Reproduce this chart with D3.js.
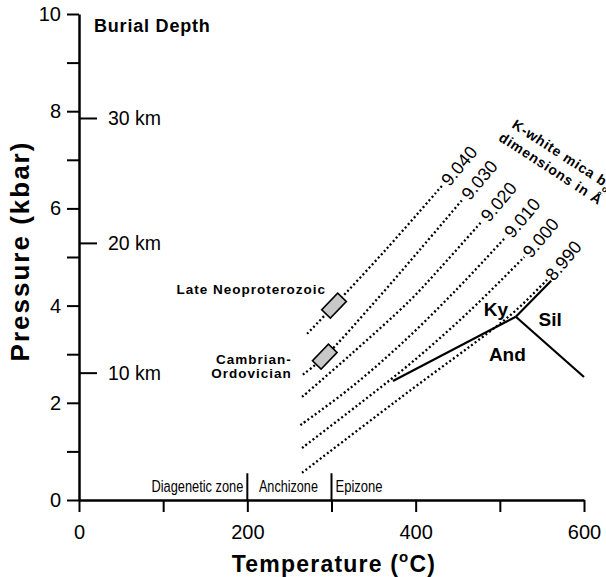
<!DOCTYPE html>
<html>
<head>
<meta charset="utf-8">
<script src="https://cdn.jsdelivr.net/npm/d3@7"></script>
<style>
  body { margin: 0; background: #fff; }
  svg { display: block; }
  text { font-family: "Liberation Sans", Arial, Helvetica, sans-serif; fill: #000; }
</style>
</head>
<body>
<svg id="chart" width="606" height="577"></svg>
<script>
// K-white mica b0 isolines (temperature in °C, pressure in kbar)
const micaLabels = ["9.040", "9.030", "9.020", "9.010", "9.000", "8.990"];
const micaT = [
  [271, 303, 365, 432],
  [266, 292, 350, 405, 456],
  [265, 322, 394, 430, 479],
  [263, 322, 384, 448, 507],
  [265, 331, 396, 463, 529],
  [265, 394, 486, 519, 556]
];
const micaP = [
  [3.42, 4.00, 5.16, 6.48],
  [2.58, 2.95, 4.05, 5.15, 6.19],
  [2.12, 2.98, 4.12, 4.79, 5.74],
  [1.54, 2.30, 3.23, 4.32, 5.41],
  [1.07, 1.95, 2.84, 3.87, 5.00],
  [0.56, 2.26, 3.44, 3.90, 4.53]
];

// aluminosilicate triple point and the ends of the three boundaries
const triplePoint = [519, 3.77];
const boundaryNames = ["Ky-Sil", "Ky-And", "Sil-And"];
const boundaryEndT = [561, 373, 600];
const boundaryEndP = [4.51, 2.45, 2.53];
const phaseNames = ["Ky", "Sil", "And"];
const phaseT = [481, 546, 487];
const phaseP = [3.79, 3.58, 2.86];

// P-T estimates of the samples
const sampleNames = [["Late Neoproterozoic"], ["Cambrian-", "Ordovician"]];
const sampleT = [303, 292];
const sampleP = [4.00, 2.95];

// burial depth scale
const depthKm = [10, 20, 30];
const depthP = [2.61, 5.28, 7.85];

// metamorphic zones along the T axis
const zoneNames = ["Diagenetic zone", "Anchizone", "Epizone"];
const zoneBounds = [200, 300];

const xTicks = [0, 100, 200, 300, 400, 500, 600];
const yTicks = [0, 1, 2, 3, 4, 5, 6, 7, 8, 9, 10];

const svg = d3.select("#chart");
const x = d3.scaleLinear().domain([0, 600]).range([79, 584]);
const y = d3.scaleLinear().domain([0, 10]).range([500, 14]);

// dotted b0 isolines
const line = d3.line()
  .x(d => x(d[0]))
  .y(d => y(d[1]))
  .curve(d3.curveCatmullRom.alpha(0.5));

micaLabels.forEach((lab, i) => {
  const pts = micaT[i].map((t, j) => [t, micaP[i][j]]);
  svg.append("path")
    .attr("d", line(pts))
    .attr("fill", "none")
    .attr("stroke", "#000")
    .attr("stroke-width", 2.3)
    .attr("stroke-dasharray", "2 2.5");

  const end = pts[pts.length - 1];
  svg.append("text")
    .attr("transform", `translate(${x(end[0]) + 2},${y(end[1]) - 2}) rotate(-50)`)
    .attr("dy", "0.35em")
    .attr("font-size", 18)
    .text(lab);
});

// sample boxes
sampleNames.forEach((name, i) => {
  const cx = x(sampleT[i]), cy = y(sampleP[i]);
  svg.append("rect")
    .attr("x", -11.5).attr("y", -6)
    .attr("width", 23).attr("height", 12)
    .attr("transform", `translate(${cx},${cy}) rotate(-46)`)
    .attr("fill", "#c8c8c8")
    .attr("stroke", "#000")
    .attr("stroke-width", 1.6);

  const lbl = svg.append("text")
    .attr("text-anchor", "end")
    .attr("font-size", 13.5)
    .attr("font-weight", "bold")
    .attr("letter-spacing", 1);
  if (name.length === 1) {
    lbl.append("tspan").attr("x", cx - 8).attr("y", cy - 12).text(name[0]);
  } else {
    name.forEach((s, k) => {
      lbl.append("tspan").attr("x", cx - 33).attr("y", cy + 7 + k * 14.5).text(s);
    });
  }
});

// aluminosilicate phase boundaries
boundaryNames.forEach((b, i) => {
  svg.append("line")
    .attr("x1", x(triplePoint[0])).attr("y1", y(triplePoint[1]))
    .attr("x2", x(boundaryEndT[i])).attr("y2", y(boundaryEndP[i]))
    .attr("stroke", "#000")
    .attr("stroke-width", 2.2);
});
phaseNames.forEach((p, i) => {
  svg.append("text")
    .attr("x", x(phaseT[i])).attr("y", y(phaseP[i]))
    .attr("font-size", 19)
    .attr("font-weight", "bold")
    .text(p);
});

// zone boundaries and names (squeezed to look like a narrow face)
zoneBounds.forEach(t => {
  svg.append("line")
    .attr("x1", x(t)).attr("x2", x(t))
    .attr("y1", y(0)).attr("y2", y(0.55))
    .attr("stroke", "#000")
    .attr("stroke-width", 2);
});
const zoneY = y(0) - 8;
function zoneText(txt, xPos, anchor, len) {
  const t = svg.append("text")
    .attr("text-anchor", anchor)
    .attr("font-size", 17)
    .text(txt);
  const sx = len / t.node().getComputedTextLength();
  t.attr("transform", `translate(${xPos},${zoneY}) scale(${sx},1)`);
}
zoneText(zoneNames[0], x(zoneBounds[0]) - 4, "end", 92);
zoneText(zoneNames[1], (x(zoneBounds[0]) + x(zoneBounds[1])) / 2 - 1, "middle", 59);
zoneText(zoneNames[2], x(zoneBounds[1]) + 4, "start", 47);

// axes
const xAxis = d3.axisBottom(x)
  .tickValues(xTicks)
  .tickSize(12)
  .tickSizeOuter(0)
  .tickPadding(13)
  .tickFormat(d => d % 200 === 0 ? d : "");
const yAxis = d3.axisLeft(y)
  .tickValues(yTicks)
  .tickSize(12)
  .tickSizeOuter(0)
  .tickPadding(6)
  .tickFormat(d => d % 2 === 0 ? d : "");

const gx = svg.append("g").attr("transform", `translate(0,${y(0)})`).call(xAxis);
const gy = svg.append("g").attr("transform", `translate(${x(0)},0)`).call(yAxis);
[gx, gy].forEach(g => {
  g.select(".domain").attr("stroke-width", 2.5);
  g.selectAll(".tick line").attr("stroke-width", 2);
  g.selectAll(".tick text")
    .attr("font-family", "'Liberation Sans', Arial, sans-serif")
    .attr("font-size", 20)
    .attr("fill", "#000");
});

// burial depth ticks
depthKm.forEach((km, i) => {
  svg.append("line")
    .attr("x1", x(0)).attr("x2", x(0) + 18)
    .attr("y1", y(depthP[i])).attr("y2", y(depthP[i]))
    .attr("stroke", "#000")
    .attr("stroke-width", 2);
  svg.append("text")
    .attr("x", x(0) + 29).attr("y", y(depthP[i]))
    .attr("dy", "0.35em")
    .attr("font-size", 19.5)
    .text(km + " km");
});
svg.append("text")
  .attr("x", 94).attr("y", 32)
  .attr("font-size", 18)
  .attr("font-weight", "bold")
  .attr("letter-spacing", 0.8)
  .text("Burial Depth");

// isoline legend title
const ttl = svg.append("g").attr("transform", "translate(511,127) rotate(33)");
const t1 = ttl.append("text").attr("font-size", 14).attr("font-weight", "bold").attr("letter-spacing", 0.8);
t1.append("tspan").text("K-white mica b");
t1.append("tspan").attr("font-size", 9).attr("dy", 4).text("o");
ttl.append("text").attr("x", -4).attr("y", 18)
  .attr("font-size", 14).attr("font-weight", "bold").attr("letter-spacing", 0.8)
  .text("dimensions in Å");

// axis titles
const xt = svg.append("text")
  .attr("x", 334).attr("y", 572)
  .attr("text-anchor", "middle")
  .attr("font-size", 23)
  .attr("font-weight", "bold")
  .attr("letter-spacing", 1.2);
xt.append("tspan").text("Temperature (");
xt.append("tspan").attr("font-size", 15).attr("dy", -10).text("o");
xt.append("tspan").attr("dy", 10).text("C)");

svg.append("text")
  .attr("transform", "translate(29,251) rotate(-90)")
  .attr("text-anchor", "middle")
  .attr("font-size", 26)
  .attr("font-weight", "bold")
  .attr("letter-spacing", 2)
  .text("Pressure (kbar)");
</script>
</body>
</html>
